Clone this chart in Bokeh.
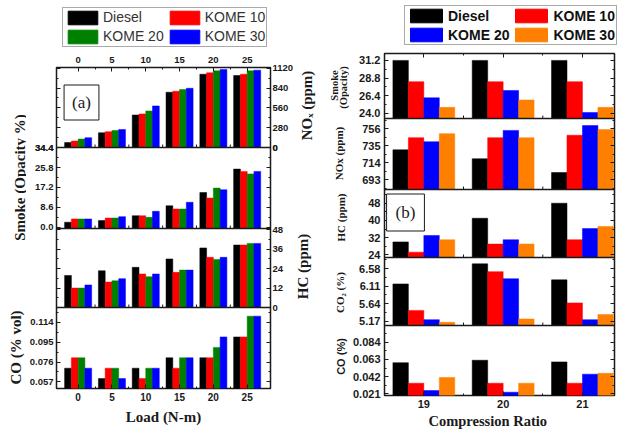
import json
from math import pi
from bokeh.plotting import figure
from bokeh.layouts import row, column
from bokeh.models import (Range1d, LinearAxis, FixedTicker, CustomJSTickFormatter,
                          Legend, LegendItem, ColumnDataSource, Label, Span, Title)
from bokeh.transform import dodge
from bokeh.core.properties import value
from bokeh.embed import file_html
from bokeh.resources import INLINE

# ===================== DATA =====================
# (a) emissions versus engine load
loads = [0, 5, 10, 15, 20, 25]
fuels_a = ["Diesel", "KOME 10", "KOME 20", "KOME 30"]

nox_load_diesel = [71, 208, 459, 780, 1035, 1017]
nox_load_kome10 = [91, 223, 474, 794, 1055, 1035]
nox_load_kome20 = [119, 241, 516, 818, 1083, 1083]
nox_load_kome30 = [138, 255, 587, 837, 1102, 1092]

smoke_load_diesel = [2.2, 2.9, 5.0, 9.3, 15.0, 25.1]
smoke_load_kome10 = [3.6, 4.0, 5.0, 7.9, 12.6, 24.1]
smoke_load_kome20 = [3.6, 4.0, 4.3, 7.9, 16.9, 23.0]
smoke_load_kome30 = [3.6, 4.6, 6.9, 10.8, 16.2, 24.1]

hc_load_diesel = [19.8, 22.7, 24.8, 30.0, 36.8, 38.6]
hc_load_kome10 = [12.0, 15.7, 20.7, 21.7, 31.0, 38.6]
hc_load_kome20 = [12.0, 16.5, 19.0, 23.1, 29.7, 39.6]
hc_load_kome30 = [13.9, 17.8, 20.7, 23.1, 31.0, 39.6]

co_load_diesel = [0.070, 0.060, 0.070, 0.080, 0.080, 0.100]
co_load_kome10 = [0.080, 0.070, 0.060, 0.070, 0.080, 0.100]
co_load_kome20 = [0.080, 0.070, 0.070, 0.080, 0.090, 0.120]
co_load_kome30 = [0.070, 0.060, 0.070, 0.080, 0.100, 0.120]

load_ticks = [0, 5, 10, 15, 20, 25]
nox_load_ticks = [0, 280, 560, 840, 1120]
smoke_load_ticks = [0.0, 8.6, 17.2, 25.8, 34.4]
hc_load_ticks = [0, 12, 24, 36, 48]
co_load_ticks = [0.057, 0.076, 0.095, 0.114]

# (b) emissions versus compression ratio
ratios = [19, 20, 21]
fuels_b = ["Diesel", "KOME 10", "KOME 20", "KOME 30"]

smoke_cr_diesel = [31.2, 31.2, 31.2]
smoke_cr_kome10 = [28.3, 28.3, 28.3]
smoke_cr_kome20 = [26.1, 27.1, 24.1]
smoke_cr_kome30 = [24.8, 25.8, 24.8]

nox_cr_diesel = [730, 719, 702]
nox_cr_kome10 = [745, 745, 748]
nox_cr_kome20 = [740, 754, 760]
nox_cr_kome30 = [750, 745, 755]

hc_cr_diesel = [30, 41, 48]
hc_cr_kome10 = [25.2, 29, 31]
hc_cr_kome20 = [33, 31, 36.2]
hc_cr_kome30 = [31, 29, 37.2]

co2_cr_diesel = [6.17, 6.71, 6.28]
co2_cr_kome10 = [5.46, 6.50, 5.66]
co2_cr_kome20 = [5.21, 6.31, 5.21]
co2_cr_kome30 = [5.14, 5.23, 5.35]

co_cr_diesel = [0.059, 0.062, 0.060]
co_cr_kome10 = [0.034, 0.034, 0.034]
co_cr_kome20 = [0.025, 0.023, 0.045]
co_cr_kome30 = [0.041, 0.034, 0.046]

ratio_ticks = [19, 20, 21]
smoke_cr_ticks = [24.0, 26.4, 28.8, 31.2]
nox_cr_ticks = [693, 714, 735, 756]
hc_cr_ticks = [24, 32, 40, 48]
co2_cr_ticks = [5.17, 5.64, 6.11, 6.58]
co_cr_ticks = [0.021, 0.042, 0.063, 0.084]

# ===================== STYLE / LAYOUT =====================
SANS = "Liberation Sans"
SERIF = "Liberation Serif"
INK = "#1a1a1a"
KEYS = ["diesel", "kome10", "kome20", "kome30"]
COLORS_A = ["#000000", "#ff0000", "#008000", "#0000ff"]
COLORS_B = ["#000000", "#ff0000", "#0000ff", "#ff8000"]

H = 430
LT_X0, A_X0, MT_X0, B_X0, W = 0, 26, 296, 349, 618
A_FL, A_FR, A_FT, A_FB = 53, 272, 67, 388
B_FL, B_FR, B_FT, B_FB = 382, 614, 53, 395
A_LEG_H, B_LEG_H = 48, 46

a_panels = [
    dict(key="nox", top=67, bottom=147, vmin=0.0, vmax=1130.0, ticks=nox_load_ticks, fmt="%d", side="right",
         series=[nox_load_diesel, nox_load_kome10, nox_load_kome20, nox_load_kome30]),
    dict(key="smoke", top=147, bottom=228, vmin=-0.5, vmax=34.4, ticks=smoke_load_ticks, fmt="%.1f", side="left",
         series=[smoke_load_diesel, smoke_load_kome10, smoke_load_kome20, smoke_load_kome30]),
    dict(key="hc", top=228, bottom=307, vmin=0.0, vmax=48.8, ticks=hc_load_ticks, fmt="%d", side="right",
         series=[hc_load_diesel, hc_load_kome10, hc_load_kome20, hc_load_kome30]),
    dict(key="co", top=307, bottom=388, vmin=0.0505, vmax=0.1283, ticks=co_load_ticks, fmt="%.3f", side="left",
         series=[co_load_diesel, co_load_kome10, co_load_kome20, co_load_kome30]),
]
b_panels = [
    dict(key="smoke", top=53, bottom=118, vmin=23.28, vmax=32.14, ticks=smoke_cr_ticks, fmt="%.1f", side="left",
         series=[smoke_cr_diesel, smoke_cr_kome10, smoke_cr_kome20, smoke_cr_kome30]),
    dict(key="nox", top=118, bottom=189, vmin=681.0, vmax=768.7, ticks=nox_cr_ticks, fmt="%d", side="left",
         series=[nox_cr_diesel, nox_cr_kome10, nox_cr_kome20, nox_cr_kome30]),
    dict(key="hc", top=189, bottom=257, vmin=22.74, vmax=54.4, ticks=hc_cr_ticks, fmt="%d", side="left",
         series=[hc_cr_diesel, hc_cr_kome10, hc_cr_kome20, hc_cr_kome30]),
    dict(key="co2", top=257, bottom=325, vmin=5.054, vmax=6.88, ticks=co2_cr_ticks, fmt="%.2f", side="left",
         series=[co2_cr_diesel, co2_cr_kome10, co2_cr_kome20, co2_cr_kome30]),
    dict(key="co", top=325, bottom=395, vmin=0.019, vmax=0.1044, ticks=co_cr_ticks, fmt="%.3f", side="left",
         series=[co_cr_diesel, co_cr_kome10, co_cr_kome20, co_cr_kome30]),
]


# ===================== HELPERS =====================
def u_of(v, pn, fb):
    page = pn["bottom"] - (v - pn["vmin"]) / (pn["vmax"] - pn["vmin"]) * (pn["bottom"] - pn["top"])
    return fb - page


def extra_range(pn, ft, fb):
    s = (pn["vmax"] - pn["vmin"]) / (pn["bottom"] - pn["top"])
    return Range1d(start=pn["vmin"] - (fb - pn["bottom"]) * s, end=pn["vmax"] + (pn["top"] - ft) * s)


def minor_of(ticks, vmin, vmax):
    step = ticks[1] - ticks[0]
    out = []
    for t in ticks:
        for m in (t - step / 2, t + step / 2):
            if vmin < m < vmax and all(abs(m - o) > step / 10 for o in out):
                out.append(m)
    return out


def mids(ticks):
    return [(a + b) / 2 for a, b in zip(ticks[:-1], ticks[1:])]


def style_axis(ax, size, standoff):
    ax.axis_line_color = None
    ax.major_tick_in = 4
    ax.major_tick_out = 0
    ax.minor_tick_in = 2
    ax.minor_tick_out = 0
    ax.major_tick_line_color = INK
    ax.minor_tick_line_color = INK
    ax.major_label_text_font = SANS
    ax.major_label_text_font_style = "bold"
    ax.major_label_text_font_size = size
    ax.major_label_text_color = INK
    ax.major_label_standoff = standoff


def panel_axis(p, side, panels, fb, size, standoff):
    ticks, minors, labels = [], [], {}
    for pn in panels:
        for t in pn["ticks"]:
            u = round(u_of(t, pn, fb), 1)
            ticks.append(u)
            key = f"{u:.1f}"
            text = (pn["fmt"] % t) if pn["side"] == side else ""
            if text or key not in labels:
                labels[key] = text
        for m in minor_of(pn["ticks"], pn["vmin"], pn["vmax"]):
            minors.append(round(u_of(m, pn, fb), 1))
    code = "const L = %s; const k = tick.toFixed(1); return (k in L) ? L[k] : '';" % json.dumps(labels)
    ax = LinearAxis(ticker=FixedTicker(ticks=ticks, minor_ticks=minors),
                    formatter=CustomJSTickFormatter(code=code))
    labelled = any(pn["side"] == side for pn in panels)
    style_axis(ax, size if labelled else "0px", standoff if labelled else 0)
    p.add_layout(ax, side)


def x_axis(p, side, ticks, labelled, size, standoff, title=None, title_size="15px", title_standoff=0):
    ax = LinearAxis(ticker=FixedTicker(ticks=ticks, minor_ticks=mids(ticks)))
    style_axis(ax, size if labelled else "0px", standoff if labelled else 0)
    if not labelled:
        ax.formatter = CustomJSTickFormatter(code="return '';")
    if title:
        ax.axis_label = title
        ax.axis_label_text_font = SERIF
        ax.axis_label_text_font_style = "bold"
        ax.axis_label_text_font_size = title_size
        ax.axis_label_text_color = INK
        ax.axis_label_standoff = title_standoff
    p.add_layout(ax, side)


def make_fig(x0, x1, y0, fl, fr, ft, fb, x_range):
    p = figure(width=x1 - x0, height=H - y0, x_range=x_range, y_range=Range1d(0, fb - ft),
               x_axis_location=None, y_axis_location=None,
               min_border_left=fl - x0, min_border_right=x1 - fr,
               min_border_top=ft - y0, min_border_bottom=H - fb,
               output_backend="svg", toolbar_location=None, frame_align=False)
    p.grid.visible = False
    p.outline_line_color = INK
    p.outline_line_width = 1.5
    p.background_fill_color = "white"
    p.border_fill_color = "white"
    return p


def blank_fig(x0, x1, y0, y1):
    # a plain drawing area whose data coordinates are page pixels (y measured upward)
    p = figure(width=x1 - x0, height=y1 - y0, x_range=Range1d(x0, x1), y_range=Range1d(H - y1, H - y0),
               x_axis_location=None, y_axis_location=None, min_border=0,
               output_backend="svg", toolbar_location=None, frame_align=False)
    p.grid.visible = False
    p.outline_line_color = None
    p.background_fill_color = "white"
    p.border_fill_color = "white"
    return p


def vtitle(p, x, y, text, size, font=SERIF):
    p.text(x=[x], y=[H - y], text=[text], angle=pi / 2, text_align="center", text_baseline="middle",
           text_font=value(font), text_font_style="bold", text_font_size=value(size), text_color=INK)


def draw_panels(p, panels, xs, x_ticks, offsets, width, colors, ft, fb):
    p.extra_y_ranges = {pn["key"]: extra_range(pn, ft, fb) for pn in panels}
    sources = []
    tick_x = mids(x_ticks)
    for i, pn in enumerate(panels):
        data = dict(x=xs)
        data.update({k: s for k, s in zip(KEYS, pn["series"])})
        src = ColumnDataSource(data)
        sources.append(src)
        for k, off, c in zip(KEYS, offsets, colors):
            p.vbar(x=dodge("x", off), top=k, bottom=pn["vmin"], width=width, source=src,
                   y_range_name=pn["key"], fill_color=c, line_color=c, line_width=0.5)
        if i > 0:
            edge = fb - pn["top"]
            p.add_layout(Span(location=edge, dimension="width", line_color=INK, line_width=1.5))
            # small inward x ticks at the bottom of the panel above this boundary
            p.segment(x0=tick_x, y0=[edge] * len(tick_x), x1=tick_x, y1=[edge + 3] * len(tick_x),
                      line_color=INK, line_width=1)
    return sources[0]


def legend_fig(x0, x1, y1, src, names, colors, box_left, box_bottom, bold, glyph_w, glyph_h):
    lf = blank_fig(x0, x1, 0, y1)
    # hidden twins of the first panel's bars; they only feed the legend swatches
    rends = [lf.vbar(x="x", top=k, width=1, source=src, fill_color=c, line_color=c, visible=False)
             for k, c in zip(KEYS, colors)]
    leg = Legend(items=[LegendItem(label=n, renderers=[r]) for n, r in zip(names, rends)],
                 location=(box_left - x0, y1 - box_bottom), orientation="horizontal", ncols=2)
    leg.glyph_width = glyph_w
    leg.glyph_height = glyph_h
    leg.label_height = glyph_h
    leg.label_standoff = 2
    leg.spacing = 2
    leg.padding = 1
    leg.margin = 0
    leg.click_policy = "none"
    leg.label_text_font = SANS
    leg.label_text_font_size = "14px"
    leg.label_text_font_style = "bold" if bold else "normal"
    leg.label_text_color = "#111" if bold else "#333"
    leg.border_line_color = "#555"
    leg.border_line_width = 1
    leg.background_fill_color = "white"
    leg.background_fill_alpha = 1
    lf.add_layout(leg)
    return lf


# ===================== PANEL (a) =====================
pa = make_fig(A_X0, MT_X0, A_LEG_H, A_FL, A_FR, A_FT, A_FB, Range1d(-3.2, 28.45))
src_a = draw_panels(pa, a_panels, loads, load_ticks, [-1.5, -0.5, 0.5, 1.5], 1.0, COLORS_A, A_FT, A_FB)
panel_axis(pa, "left", a_panels, A_FB, "9.5px", 3)
panel_axis(pa, "right", a_panels, A_FB, "9.5px", 2)
x_axis(pa, "above", load_ticks, True, "9.5px", 5)
x_axis(pa, "below", load_ticks, True, "10px", 4, title="Load (N-m)", title_size="15px", title_standoff=5)
pa.add_layout(Label(x=78 - A_FL, y=A_FB - 102, x_units="screen", y_units="screen", text="(a)",
                    text_align="center", text_baseline="middle", text_font=SERIF,
                    text_font_size="17px", text_color=INK, border_line_color=INK,
                    border_line_width=1, background_fill_color="white", padding=8))
leg_a = legend_fig(A_X0, MT_X0, A_LEG_H, src_a, fuels_a, COLORS_A, 62, 46.5, False, 37, 17)

# ===================== PANEL (b) =====================
pb = make_fig(B_X0, W, B_LEG_H, B_FL, B_FR, B_FT, B_FB, Range1d(18.504, 21.404))
src_b = draw_panels(pb, b_panels, ratios, ratio_ticks, [-0.2925, -0.0975, 0.0975, 0.2925], 0.195,
                    COLORS_B, B_FT, B_FB)
panel_axis(pb, "left", b_panels, B_FB, "11px", 4)
panel_axis(pb, "right", b_panels, B_FB, "11px", 0)
x_axis(pb, "above", ratio_ticks, False, "11px", 0)
x_axis(pb, "below", ratio_ticks, True, "11px", 4)
pb.add_layout(Title(text="Compression Ratio", align="left", offset=426 - B_FL, standoff=0,
                    text_font=SERIF, text_font_style="bold", text_font_size="14.5px",
                    text_color=INK), "below")
pb.add_layout(Label(x=403 - B_FL, y=B_FB - 212, x_units="screen", y_units="screen", text="(b)",
                    text_align="center", text_baseline="middle", text_font=SERIF,
                    text_font_size="17px", text_color=INK, border_line_color=INK,
                    border_line_width=1, background_fill_color="white", padding=9))
leg_b = legend_fig(B_X0, W, B_LEG_H, src_b, fuels_b, COLORS_B, 404, 45, True, 40, 17)

# ===================== AXIS TITLES =====================
lt = blank_fig(LT_X0, A_X0, 0, H)
vtitle(lt, 19, 177, "Smoke (Opacity %)", "15px")
vtitle(lt, 15, 347, "CO (% vol)", "15px")

mt = blank_fig(MT_X0, B_X0, 0, H)
vtitle(mt, 306, 105, "NOₓ (ppm)", "15px")
vtitle(mt, 302, 266, "HC (ppm)", "15px")
vtitle(mt, 334, 85, "Smoke", "10.5px")
vtitle(mt, 343, 87, "(Opacity)", "10.5px")
vtitle(mt, 338, 153, "NOx (ppm)", "11px")
vtitle(mt, 340, 217, "HC (ppm)", "11px")
vtitle(mt, 339, 292, "CO₂ (%)", "11px")
vtitle(mt, 340, 356, "CO (%)", "11px", font=SANS)

layout = row(lt, column(leg_a, pa), mt, column(leg_b, pb))
open("out.html", "w").write(file_html(layout, INLINE))
